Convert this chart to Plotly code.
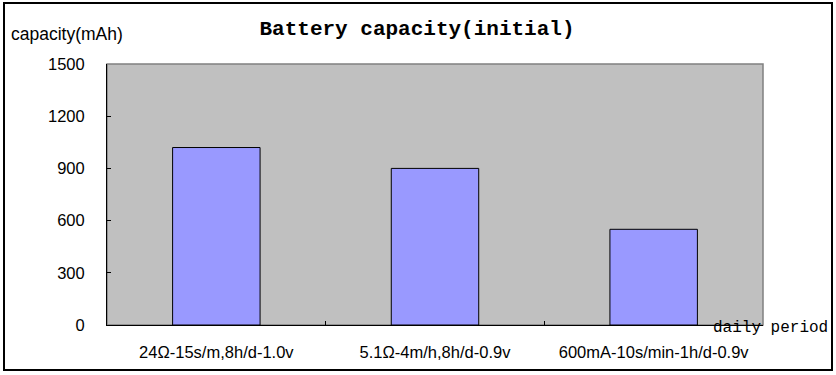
import plotly.graph_objects as go

categories = ["24Ω-15s/m,8h/d-1.0v", "5.1Ω-4m/h,8h/d-0.9v", "600mA-10s/min-1h/d-0.9v"]
capacity = [1020, 900, 550]
y_ticks = [0, 300, 600, 900, 1200, 1500]

W, H = 836, 375
L, R, T, B = 107, 763, 64, 325
pw, ph = R - L, B - T

def px(x):
    return (x - L) / pw

def py(y):
    return (B - y) / ph

fig = go.Figure()
fig.add_trace(go.Bar(
    x=categories, y=capacity, width=0.4,
    marker=dict(color="#9999FF", line=dict(color="black", width=1)),
))

fig.update_layout(
    width=W, height=H,
    margin=dict(l=L, r=W - R, t=T, b=H - B),
    paper_bgcolor="white", plot_bgcolor="#C0C0C0",
    showlegend=False,
    font=dict(family="Liberation Sans, Arial", size=15, color="black"),
    title=dict(text="Battery capacity(initial)", x=417 / W, xanchor="center",
               y=1 - 28 / H, yanchor="middle",
               font=dict(family="Liberation Mono, monospace", size=21, color="black", weight="bold")),
)
fig.update_xaxes(
    showline=True, linecolor="black", linewidth=1,
    ticks="inside", tickson="boundaries", ticklen=4, tickcolor="black",
    showgrid=False, tickfont=dict(size=16.5), ticklabelstandoff=12,
)
fig.update_yaxes(
    range=[0, 1500], tickvals=y_ticks, showline=True, linecolor="black", linewidth=1,
    ticks="inside", ticklen=4, tickcolor="black", showgrid=False, zeroline=False,
    tickfont=dict(size=16.5), ticklabelstandoff=18,
)

# gray plot frame (top/right)
fig.add_shape(type="rect", xref="paper", yref="paper", x0=0, x1=1, y0=0, y1=1,
              line=dict(color="#808080", width=1.5), layer="below")
# outer black border
fig.add_shape(type="rect", xref="paper", yref="paper",
              x0=px(4), x1=px(832), y0=py(370), y1=py(3),
              line=dict(color="black", width=2))

fig.add_annotation(text="capacity(mAh)", xref="paper", yref="paper",
                   x=px(9), y=py(34), xanchor="left", yanchor="middle",
                   showarrow=False, font=dict(size=17.5))
fig.add_annotation(text="daily period", xref="paper", yref="paper",
                   x=px(711), y=py(328), xanchor="left", yanchor="middle",
                   showarrow=False, font=dict(family="Liberation Mono, monospace", size=16))

fig.write_html("out.html", config={"displayModeBar": False},
               post_script="document.body.style.margin='0';document.body.style.overflow='hidden';")
